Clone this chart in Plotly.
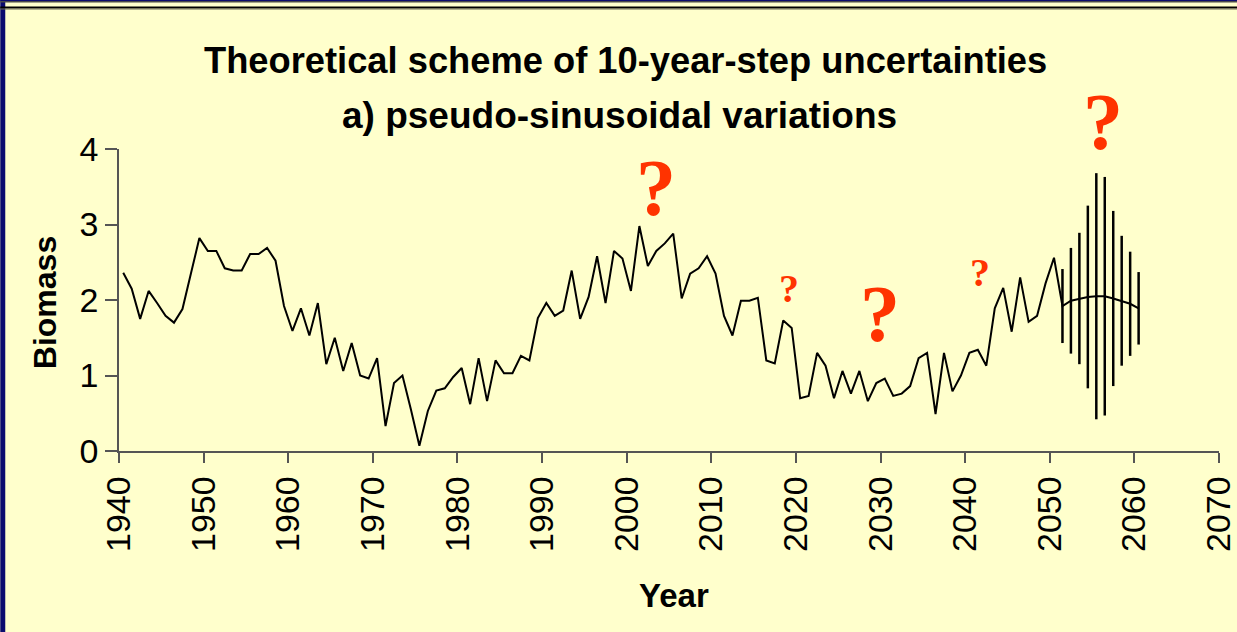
import plotly.graph_objects as go

# Observed biomass, one value per year 1940-2050
hist_years = list(range(1940, 2051))
hist_biomass = [
    2.36, 2.15, 1.75, 2.12, 1.96, 1.79, 1.70, 1.88, 2.35, 2.82,   # 1940s
    2.65, 2.65, 2.42, 2.39, 2.39, 2.61, 2.61, 2.69, 2.52, 1.92,   # 1950s
    1.59, 1.89, 1.53, 1.96, 1.15, 1.50, 1.06, 1.43, 1.00, 0.96,   # 1960s
    1.23, 0.33, 0.90, 1.00, 0.55, 0.07, 0.53, 0.80, 0.83, 0.98,   # 1970s
    1.10, 0.62, 1.23, 0.66, 1.20, 1.03, 1.03, 1.26, 1.20, 1.76,   # 1980s
    1.96, 1.79, 1.86, 2.39, 1.75, 2.04, 2.58, 1.96, 2.65, 2.55,   # 1990s
    2.12, 2.98, 2.45, 2.65, 2.75, 2.88, 2.02, 2.35, 2.42, 2.58,   # 2000s
    2.35, 1.79, 1.53, 1.99, 1.99, 2.03, 1.20, 1.16, 1.73, 1.63,   # 2010s
    0.70, 0.73, 1.30, 1.13, 0.70, 1.06, 0.76, 1.06, 0.66, 0.90,   # 2020s
    0.96, 0.73, 0.76, 0.86, 1.23, 1.30, 0.49, 1.30, 0.79, 1.00,   # 2030s
    1.30, 1.34, 1.13, 1.89, 2.16, 1.58, 2.30, 1.71, 1.79, 2.22,   # 2040s
    2.56,                                                         # 2050
]

# Ten-year projection with its uncertainty half-range
proj_years = list(range(2051, 2061))
proj_biomass = [1.92, 1.99, 2.02, 2.04, 2.05, 2.05, 2.02, 1.99, 1.95, 1.89]
proj_spread = [0.49, 0.70, 0.87, 1.21, 1.63, 1.58, 1.16, 0.86, 0.69, 0.48]

x_ticks = list(range(1940, 2071, 10))
y_ticks = [0, 1, 2, 3, 4]

# Question marks: (year, biomass, font size)
question_marks = [
    (2003.5, 3.48, 80),
    (2019.2, 2.15, 40),
    (2029.9, 1.82, 80),
    (2041.8, 2.37, 40),
    (2056.3, 4.36, 80),
]

# category centres: each year's point sits midway between tick marks
centre = 0.5
all_years = hist_years + proj_years
all_biomass = hist_biomass + proj_biomass

X_MIN, X_MAX = 1940, 2070
Y_MIN, Y_MAX = 0, 4

BG = "#FFFFCC"
AXIS = "#555555"
SANS = "Arial, Liberation Sans, sans-serif"
SERIF = "Times New Roman, Liberation Serif, serif"

fig = go.Figure()

fig.add_trace(go.Scatter(
    x=[y + centre for y in all_years], y=all_biomass,
    mode="lines", line=dict(color="black", width=2),
    showlegend=False, hoverinfo="skip",
))

fig.add_trace(go.Scatter(
    x=[y + centre for y in proj_years], y=proj_biomass,
    mode="markers", marker=dict(size=1, opacity=0),
    error_y=dict(type="data", array=proj_spread, symmetric=True,
                 color="black", thickness=2.5, width=0),
    showlegend=False, hoverinfo="skip",
))

annotations = [
    dict(text="<b>Theoretical scheme of 10-year-step uncertainties</b>",
         xref="paper", yref="paper", x=0.4603, y=1.292, xanchor="center", yanchor="middle",
         font=dict(family=SANS, size=36.3, color="black"), showarrow=False),
    dict(text="<b>a) pseudo-sinusoidal variations</b>",
         xref="paper", yref="paper", x=0.4549, y=1.112, xanchor="center", yanchor="middle",
         font=dict(family=SANS, size=37, color="black"), showarrow=False),
    dict(text="<b>Biomass</b>", textangle=-90,
         xref="paper", yref="paper", x=-0.0671, y=0.49, xanchor="center", yanchor="middle",
         font=dict(family=SANS, size=32, color="black"), showarrow=False),
    dict(text="<b>Year</b>",
         xref="paper", yref="paper", x=0.5048, y=-0.48, xanchor="center", yanchor="middle",
         font=dict(family=SANS, size=33, color="black"), showarrow=False),
]
for qx, qy, qs in question_marks:
    # paper coordinates so marks above the top of the axis are still drawn
    annotations.append(dict(
        text="<b>?</b>",
        x=(qx - X_MIN) / (X_MAX - X_MIN), y=(qy - Y_MIN) / (Y_MAX - Y_MIN),
        xref="paper", yref="paper",
        xanchor="center", yanchor="middle", showarrow=False,
        font=dict(family=SERIF, size=qs, color="#FF3300"),
    ))

# Plotly widens the right margin by the half of the 2070 label that hangs past
# the axis end, so the base margin is zero and the effective one is R_EFF
L, R, T, B = 119, 0, 149, 181
R_EFF = 15.5

fig.update_layout(
    width=1237, height=632,
    margin=dict(l=L, r=R, t=T, b=B, pad=0),
    paper_bgcolor=BG, plot_bgcolor=BG,
    annotations=annotations,
    xaxis=dict(
        range=[X_MIN, X_MAX], tickmode="array", tickvals=x_ticks,
        ticktext=[str(t) for t in x_ticks], tickangle=-90,
        ticklabeloverflow="allow",
        ticks="outside", ticklen=10, tickwidth=1.5, tickcolor=AXIS,
        showline=True, linecolor=AXIS, linewidth=1.5,
        showgrid=False, zeroline=False,
        tickfont=dict(family=SANS, size=34, color="black"),
    ),
    yaxis=dict(
        range=[Y_MIN, Y_MAX], tickmode="array", tickvals=y_ticks,
        ticks="outside", ticklen=12, tickwidth=1.5, tickcolor=AXIS,
        showline=True, linecolor=AXIS, linewidth=1.5,
        showgrid=False, zeroline=False,
        tickfont=dict(family=SANS, size=34, color="black"),
    ),
)

# slide frame: navy edge on the left, ruled band along the top
W, H = 1237, 632
plot_w = W - L - R_EFF
plot_h = H - T - B
def px(x):
    return (x - L) / plot_w
def py(y):
    return (H - B - y) / plot_h

frame = [
    ("#0B0B6E", 0, 0, 5, H),
    ("#0B0B6E", 0, 0, W + 40, 1),
    ("#4A4A4A", 0, 1, W + 40, 2.6),
    ("#000000", 0, 6.6, W + 40, 8.4),
    ("#6A6A50", 0, 8.4, W + 40, 9.4),
]
fig.update_layout(shapes=[
    dict(type="rect", xref="paper", yref="paper",
         x0=px(x0), x1=px(x1), y0=py(y1), y1=py(y0),
         fillcolor=c, line=dict(width=0), layer="above")
    for c, x0, y0, x1, y1 in frame
])

fig.write_html("out.html")
